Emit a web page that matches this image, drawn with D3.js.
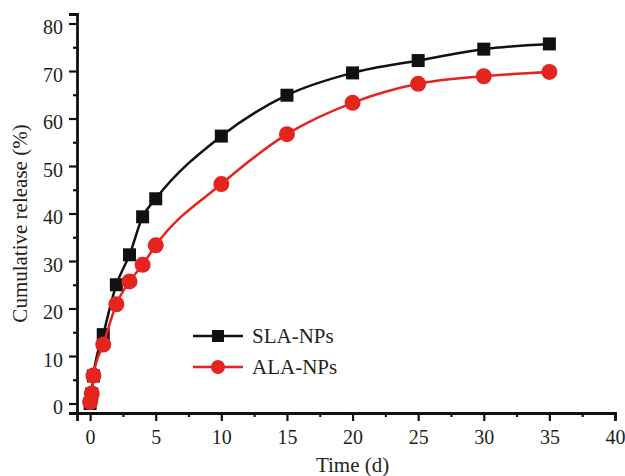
<!DOCTYPE html>
<html>
<head>
<meta charset="utf-8">
<script src="https://cdn.jsdelivr.net/npm/d3@7"></script>
<style>
  html, body { margin: 0; padding: 0; background: #fff; }
  svg { display: block; }
  svg text { font-family: "Liberation Serif", "Tinos", "Times New Roman", Times, "DejaVu Serif", serif !important; fill: #231f20; }
</style>
</head>
<body>
<svg id="chart" width="625" height="476"></svg>
<script>
// Release time points (days) and cumulative release (%) for each formulation
const times = [0, 0.125, 0.25, 1, 2, 3, 4, 5, 10, 15, 20, 25, 30, 35];
const slaRelease = [0, 2.0, 5.8, 14.5, 25.0, 31.3, 39.3, 43.1, 56.3, 64.9, 69.6, 72.2, 74.6, 75.7];
const alaRelease = [0.3, 2.1, 5.9, 12.4, 20.9, 25.7, 29.2, 33.3, 46.2, 56.7, 63.3, 67.3, 68.9, 69.8];
const seriesNames = ["SLA-NPs", "ALA-NPs"];
const xTicks = [0, 5, 10, 15, 20, 25, 30, 35, 40];
const yTicks = [0, 10, 20, 30, 40, 50, 60, 70, 80];
const xLabel = "Time (d)";
const yLabel = "Cumulative release (%)";

const serif = "'Liberation Serif', Tinos, 'Times New Roman', Times, 'DejaVu Serif', serif";
const svg = d3.select("#chart").attr("font-family", serif);
const black = "#111111";
const red = "#e5231f";

const x = d3.scaleLinear().domain([-1, 40]).range([77, 615]);
const y = d3.scaleLinear().domain([-2, 82]).range([413, 14]);

// Axes: major ticks with labels, unlabeled minor ticks in between
function drawAxis(axisGen, transform, cls) {
  return svg.append("g").attr("class", cls).attr("transform", transform).call(axisGen);
}

const xMinor = d3.range(2.5, 40, 5);
const yMinor = d3.range(5, 80, 10);

drawAxis(d3.axisBottom(x).tickValues(xMinor).tickSize(4).tickFormat(""), "translate(0,413)", "x-minor");
drawAxis(d3.axisLeft(y).tickValues(yMinor).tickSize(4).tickFormat(""), "translate(77,0)", "y-minor");
const gx = drawAxis(d3.axisBottom(x).tickValues(xTicks).tickSize(8).tickPadding(7).tickFormat(d3.format("d")), "translate(0,413)", "x-axis");
const gy = drawAxis(d3.axisLeft(y).tickValues(yTicks).tickSize(8).tickPadding(6).tickFormat(d3.format("d")), "translate(77,0)", "y-axis");

svg.selectAll("g").attr("font-family", serif);
svg.selectAll(".x-minor .domain, .y-minor .domain").remove();
svg.selectAll("g.tick line").attr("stroke", black).attr("stroke-width", 2.2);
svg.selectAll(".domain").attr("stroke", black).attr("stroke-width", 2.8);
svg.selectAll("g.tick text").attr("font-size", 20).attr("fill", "#231f20");
gy.selectAll("text").attr("dy", "0.5em");
gx.selectAll("text").attr("dy", "0.78em");

// Axis titles
svg.append("text")
  .attr("x", x(20)).attr("y", 472)
  .attr("text-anchor", "middle").attr("font-size", 21)
  .text(xLabel);
svg.append("text")
  .attr("transform", `translate(27,${y(40) + 10}) rotate(-90)`)
  .attr("text-anchor", "middle").attr("font-size", 21)
  .text(yLabel);

// Release curves
const line = d3.line().x(d => x(d[0])).y(d => y(d[1])).curve(d3.curveMonotoneX);
const sla = times.map((t, i) => [t, slaRelease[i]]);
const ala = times.map((t, i) => [t, alaRelease[i]]);

svg.append("path").datum(sla).attr("d", line)
  .attr("fill", "none").attr("stroke", black).attr("stroke-width", 2.5);
svg.selectAll(".sq").data(sla).enter().append("rect")
  .attr("x", d => x(d[0]) - 6.5).attr("y", d => y(d[1]) - 6.5)
  .attr("width", 13).attr("height", 13).attr("fill", black);

svg.append("path").datum(ala).attr("d", line)
  .attr("fill", "none").attr("stroke", red).attr("stroke-width", 2.5);
svg.selectAll(".dot").data(ala).enter().append("circle")
  .attr("cx", d => x(d[0])).attr("cy", d => y(d[1]))
  .attr("r", 8).attr("fill", red);

// Legend
const legend = svg.append("g");
const rows = [
  { name: seriesNames[0], color: black, shape: "square", cy: 336 },
  { name: seriesNames[1], color: red, shape: "circle", cy: 367 }
];
rows.forEach(r => {
  legend.append("line").attr("x1", 193).attr("x2", 243).attr("y1", r.cy).attr("y2", r.cy)
    .attr("stroke", r.color).attr("stroke-width", 2.5);
  if (r.shape === "square") {
    legend.append("rect").attr("x", 218 - 6).attr("y", r.cy - 6).attr("width", 12).attr("height", 12).attr("fill", r.color);
  } else {
    legend.append("circle").attr("cx", 218).attr("cy", r.cy).attr("r", 7).attr("fill", r.color);
  }
  legend.append("text").attr("x", 252).attr("y", r.cy + 7).attr("font-size", 21).text(r.name);
});
</script>
</body>
</html>
